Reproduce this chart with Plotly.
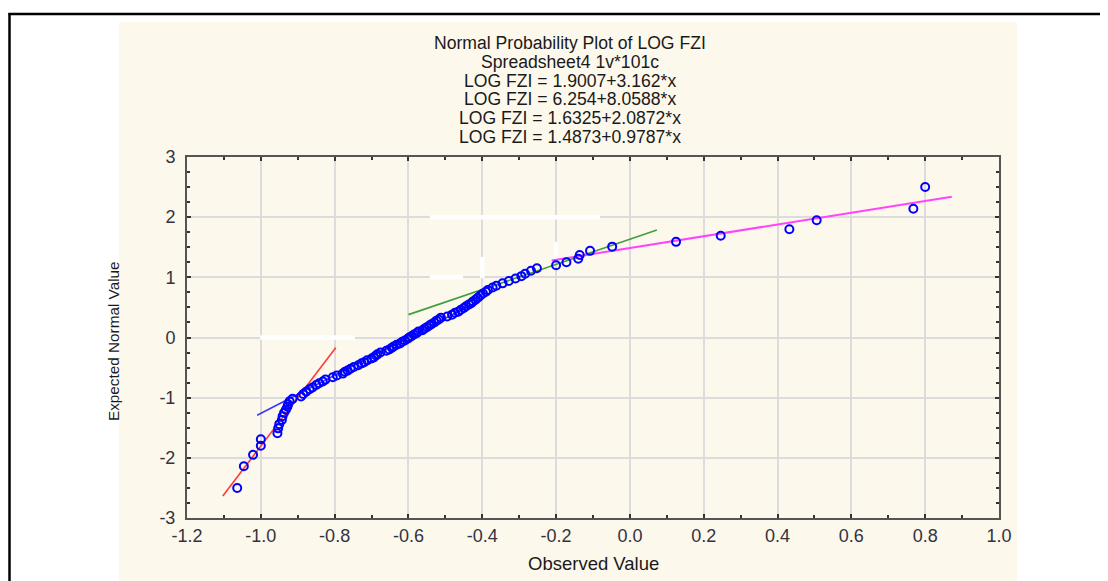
import plotly.graph_objects as go

# ---------------- data ----------------
expected_normal = [
    -2.50, -2.14, -1.95, -1.80, -1.69, -1.59, -1.51, -1.44, -1.37, -1.31,
    -1.25, -1.20, -1.15, -1.11, -1.06, -1.02, -0.98, -0.94, -0.90, -0.86,
    -0.83, -0.79, -0.76, -0.73, -0.70, -0.66, -0.63, -0.60, -0.57, -0.55,
    -0.52, -0.49, -0.46, -0.43, -0.41, -0.38, -0.35, -0.33, -0.30, -0.28,
    -0.25, -0.22, -0.20, -0.17, -0.15, -0.12, -0.10, -0.07, -0.05, -0.02,
    0.00, 0.02, 0.05, 0.07, 0.10, 0.12, 0.15, 0.17, 0.20, 0.22,
    0.25, 0.28, 0.30, 0.33, 0.35, 0.38, 0.41, 0.43, 0.46, 0.49,
    0.52, 0.55, 0.57, 0.60, 0.63, 0.66, 0.70, 0.73, 0.76, 0.79,
    0.83, 0.86, 0.90, 0.94, 0.98, 1.02, 1.06, 1.11, 1.15, 1.20,
    1.25, 1.31, 1.37, 1.44, 1.51, 1.59, 1.69, 1.80, 1.95, 2.14,
    2.50,
]
observed = [
    -1.064, -1.046, -1.021, -1.000, -1.000, -0.955, -0.953, -0.950, -0.943, -0.941,
    -0.937, -0.932, -0.928, -0.926, -0.922, -0.914, -0.891, -0.885, -0.877, -0.868,
    -0.860, -0.850, -0.842, -0.832, -0.825, -0.805, -0.794, -0.778, -0.772, -0.765,
    -0.757, -0.748, -0.736, -0.727, -0.720, -0.712, -0.700, -0.694, -0.688, -0.684,
    -0.676, -0.660, -0.652, -0.645, -0.640, -0.632, -0.623, -0.617, -0.610, -0.602,
    -0.598, -0.592, -0.585, -0.578, -0.573, -0.562, -0.556, -0.550, -0.543, -0.538,
    -0.530, -0.524, -0.518, -0.512, -0.495, -0.482, -0.474, -0.465, -0.458, -0.450,
    -0.444, -0.436, -0.430, -0.425, -0.418, -0.412, -0.405, -0.398, -0.390, -0.385,
    -0.372, -0.362, -0.345, -0.328, -0.310, -0.294, -0.284, -0.268, -0.252, -0.200,
    -0.172, -0.140, -0.136, -0.108, -0.048, 0.125, 0.246, 0.432, 0.506, 0.768,
    0.800,
]

# fitted lines: intercept, slope and x-extent of each segment
fit_names = ["LOG FZI = 1.9007+3.162*x", "LOG FZI = 6.254+8.0588*x",
             "LOG FZI = 1.6325+2.0872*x", "LOG FZI = 1.4873+0.9787*x"]
fit_intercepts = [1.9007, 6.254, 1.6325, 1.4873]
fit_slopes = [3.162, 8.0588, 2.0872, 0.9787]
fit_x_start = [-1.010, -1.103, -0.600, -0.212]
fit_x_end = [-0.400, -0.797, 0.073, 0.872]
fit_colors = ["#3a3aff", "#ff3a3a", "#3f9f3f", "#ff44ff"]
fit_widths = [1.6, 1.6, 1.6, 2.0]

x_tickvals = [-1.2, -1.0, -0.8, -0.6, -0.4, -0.2, 0.0, 0.2, 0.4, 0.6, 0.8, 1.0]
x_ticktext = ["-1.2", "-1.0", "-0.8", "-0.6", "-0.4", "-0.2", "0.0", "0.2", "0.4", "0.6", "0.8", "1.0"]
y_tickvals = [-3, -2, -1, 0, 1, 2, 3]
y_ticktext = ["-3", "-2", "-1", "0", "1", "2", "3"]

title_lines = ["Normal Probability Plot of LOG FZI", "Spreadsheet4 1v*101c"] + fit_names

# ---------------- figure ----------------
FONT = "Liberation Sans, Arial, sans-serif"
fig = go.Figure()

order = [1, 0, 2, 3]
for i in order:
    xs = [fit_x_start[i], fit_x_end[i]]
    ys = [fit_intercepts[i] + fit_slopes[i] * v for v in xs]
    fig.add_trace(go.Scatter(x=xs, y=ys, mode="lines",
                             line=dict(color=fit_colors[i], width=fit_widths[i]),
                             showlegend=False, hoverinfo="skip"))

fig.add_trace(go.Scatter(x=observed, y=expected_normal, mode="markers",
                         marker=dict(symbol="circle-open", size=8, color="#0000ff",
                                     line=dict(width=2, color="#0000ff")),
                         showlegend=False))

# the page body has an 8px margin, so the figure is drawn 8px lower/right
OFF = 8
W, H = 1108 - OFF, 581 - OFF
L, R, T, B = 187 - OFF, 999 - OFF, 157 - OFF, 518 - OFF
pw, ph = R - L, B - T

def px(xref_px):
    return (xref_px - OFF - L) / pw

def py(yref_px):
    return (B - (yref_px - OFF)) / ph

shapes = [
    # cream background panel
    dict(type="rect", xref="paper", yref="paper", x0=px(119), x1=px(1017),
         y0=py(620), y1=py(22), fillcolor="#fdf8ec", line=dict(width=0), layer="below"),
    # outer black frame (left and top)
    dict(type="line", xref="paper", yref="paper", x0=px(9.5), x1=px(9.5),
         y0=py(13), y1=py(620), line=dict(color="black", width=2.5)),
    dict(type="line", xref="paper", yref="paper", x0=px(8.5), x1=px(1130),
         y0=py(14), y1=py(14), line=dict(color="black", width=2.5)),
]
# small white breaks in the grid seen in the reference (hidden white series)
grid_breaks = [  # (x0, x1, y0, y1) in data units
    (-0.542, -0.081, 2.0, 2.0),
    (-0.542, -0.452, 1.0, 1.0),
    (-1.002, -0.745, 0.0, 0.0),
    (-0.4, -0.4, 0.99, 1.34),
    (-0.2, -0.2, 1.29, 1.59),
]
for x0, x1, y0, y1 in grid_breaks:
    shapes.append(dict(type="line", xref="x", yref="y", x0=x0, x1=x1, y0=y0, y1=y1,
                       line=dict(color="white", width=4.5), layer="between"))

annotations = []
title_y = [43, 61.8, 80.6, 99.4, 118.2, 137]
for t, yy in zip(title_lines, title_y):
    annotations.append(dict(text=t, x=px(570), y=py(yy), xref="paper", yref="paper",
                            showarrow=False, xanchor="center", yanchor="middle",
                            font=dict(family=FONT, size=17.6, color="#1a1a1a")))
annotations.append(dict(text="Observed Value", x=px(593), y=py(563), xref="paper", yref="paper",
                        showarrow=False, xanchor="center", yanchor="middle",
                        font=dict(family=FONT, size=18.5, color="#1a1a1a")))
annotations.append(dict(text="Expected Normal Value", x=px(113), y=py(341), xref="paper", yref="paper",
                        showarrow=False, xanchor="center", yanchor="middle", textangle=-90,
                        font=dict(family=FONT, size=15.3, color="#1a1a1a")))

axis_common = dict(
    showgrid=True, gridcolor="#dcdcdc", gridwidth=2,
    zeroline=False, showline=True, linecolor="#555555", linewidth=2, mirror="allticks",
    ticks="inside", ticklen=4, tickwidth=1.5, tickcolor="#333333",
    tickfont=dict(family=FONT, size=18, color="#333340"),
)

fig.update_layout(
    width=W, height=H,
    margin=dict(l=L, r=W - R, t=T, b=H - B, pad=0),
    paper_bgcolor="white", plot_bgcolor="white",
    shapes=shapes, annotations=annotations,
    xaxis=dict(range=[-1.2, 1.0], tickvals=x_tickvals, ticktext=x_ticktext,
               minor=dict(dtick=0.1, tick0=0, ticks="inside", ticklen=3, tickcolor="#333333", showgrid=False),
               ticklabelstandoff=0, **axis_common),
    yaxis=dict(range=[-3, 3], tickvals=y_tickvals, ticktext=y_ticktext,
               minor=dict(dtick=0.25, tick0=0, ticks="inside", ticklen=3, tickcolor="#333333", showgrid=False),
               ticklabelstandoff=6, **axis_common),
)

fig.write_html("out.html")
